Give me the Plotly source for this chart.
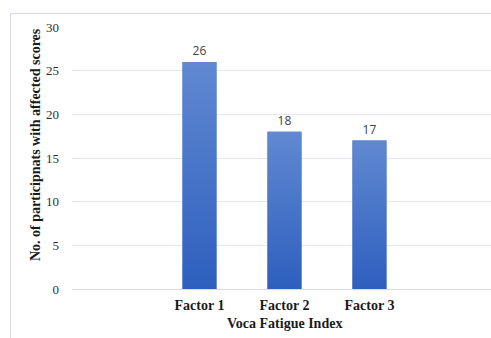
import plotly.graph_objects as go

# Chart data
categories = ["Factor 1", "Factor 2", "Factor 3"]
positions = [1, 2, 3]
counts = [26, 18, 17]
y_ticks = [0, 5, 10, 15, 20, 25, 30]

BAR_W = 0.4
TOP_BLUE = "#6189d2"
BOTTOM_BLUE = "#2e5fbe"

fig = go.Figure()

# Bars with value labels above them
fig.add_trace(go.Bar(
    x=positions, y=counts, width=BAR_W,
    marker=dict(color="#4a75c8", line=dict(width=0)),
    text=[str(v) for v in counts], textposition="outside",
    textfont=dict(family="Open Sans, Liberation Sans, sans-serif", size=12, color="#404040"),
    cliponaxis=False, showlegend=False, hoverinfo="skip",
))

# Vertical gradient overlay on each bar, built from the same values
for xpos, v in zip(positions, counts):
    fig.add_trace(go.Scatter(
        x=[xpos - BAR_W / 2, xpos - BAR_W / 2, xpos + BAR_W / 2, xpos + BAR_W / 2, xpos - BAR_W / 2],
        y=[0, v, v, 0, 0],
        mode="lines", line=dict(width=0), fill="toself",
        fillgradient=dict(type="vertical",
                          colorscale=[[0, BOTTOM_BLUE], [1, TOP_BLUE]]),
        showlegend=False, hoverinfo="skip",
    ))

serif = "Liberation Serif, Times New Roman, serif"

fig.update_layout(
    width=491, height=338,
    margin=dict(l=72, r=0, t=27, b=49),
    paper_bgcolor="white", plot_bgcolor="white",
    bargap=0.6,
    xaxis=dict(
        range=[-0.5, 4.43], tickmode="array", tickvals=positions,
        ticktext=[f"<b>{c}</b>" for c in categories],
        tickfont=dict(family=serif, size=14, color="#1a1a1a"),
        showgrid=False, zeroline=False, showline=True, linecolor="#d9d9e3", linewidth=1,
        ticks="", ticklabelstandoff=3,
    ),
    yaxis=dict(
        range=[0, 30], tickmode="array", tickvals=y_ticks,
        tickfont=dict(family=serif, size=13, color="#303030"),
        showgrid=True, gridcolor="#e6e6ee", gridwidth=1, zeroline=False,
        showline=False, ticks="", ticklabelstandoff=12,
    ),
    annotations=[
        dict(text="<b>No. of participnats with affected scores</b>", textangle=-90,
             xref="paper", yref="paper", x=(35 - 72) / 419, y=(289 - 145) / 262,
             xanchor="center", yanchor="middle", showarrow=False,
             font=dict(family=serif, size=14, color="#1a1a1a")),
        dict(text="<b>Voca Fatigue Index</b>",
             xref="paper", yref="paper", x=(284 - 72) / 419, y=(289 - 323) / 262,
             xanchor="center", yanchor="middle", showarrow=False,
             font=dict(family=serif, size=14, color="#1a1a1a")),
    ],
    shapes=[
        # chart frame (left and top edges)
        dict(type="line", xref="paper", yref="paper",
             x0=(10.5 - 72) / 419, x1=(10.5 - 72) / 419,
             y0=(289 - 338) / 262, y1=(289 - 13.5) / 262,
             line=dict(color="#d9d9e6", width=1)),
        dict(type="line", xref="paper", yref="paper",
             x0=(10.5 - 72) / 419, x1=1.05,
             y0=(289 - 13.5) / 262, y1=(289 - 13.5) / 262,
             line=dict(color="#d9d9e6", width=1)),
    ],
)

fig.write_html("out.html")
